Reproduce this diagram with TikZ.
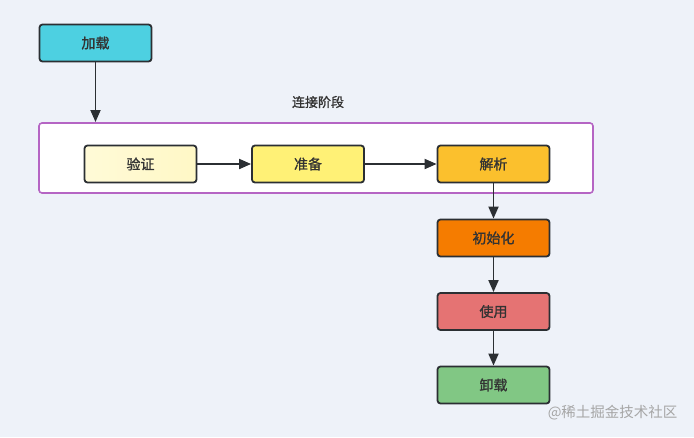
\documentclass[tikz,border=0pt]{standalone}
\usepackage{fontspec}
\setmainfont{Noto Sans CJK SC}
\newfontfamily\cjkm{Noto Sans CJK SC}[FakeBold=1.2]
\usetikzlibrary{arrows.meta}
\definecolor{bgc}{HTML}{EEF2F9}
\definecolor{edgec}{HTML}{2B2F33}
\definecolor{txtc}{HTML}{333333}
\definecolor{purp}{HTML}{B565C4}
\definecolor{cjz}{HTML}{4DD0E1}
\definecolor{cyz}{HTML}{FFF8C6}
\definecolor{czb}{HTML}{FFF176}
\definecolor{cjx}{HTML}{FBC02D}
\definecolor{ccs}{HTML}{F57C00}
\definecolor{csy}{HTML}{E57373}
\definecolor{cxz}{HTML}{81C784}
\tikzset{
  box/.style={draw=edgec, line width=1.8pt, rounded corners=3pt, minimum width=112pt, minimum height=37pt, inner sep=0pt, font=\cjkm\fontsize{14}{16}\selectfont, text=txtc},
  arr/.style={draw=edgec, line width=1.8pt, -{Triangle[length=12pt,width=10pt]}},
}
\begin{document}
\begin{tikzpicture}[x=1pt,y=-1pt]
\fill[bgc] (0,0) rectangle (694,437);
\useasboundingbox (0,0) rectangle (694,437);
\node[draw=purp, line width=1.6pt, fill=white, rounded corners=3pt, minimum width=554pt, minimum height=70pt, inner sep=0pt] (grp) at (316,158) {};
\node[font=\cjkm\fontsize{13}{15}\selectfont, text=txtc] (lbl) at (318,102) {连接阶段};
\node[box, fill=cjz] (jz) at (95.5,43) {加载};
\node[box, left color=cyz!70!white, right color=cyz] (yz) at (140.5,164) {验证};
\node[box, fill=czb] (zb) at (308,164) {准备};
\node[box, fill=cjx] (jx) at (493.5,164) {解析};
\node[box, fill=ccs] (cs) at (493.5,238) {初始化};
\node[box, fill=csy] (sy) at (493.5,311.5) {使用};
\node[box, fill=cxz] (xz) at (493.5,385) {卸载};
\coordinate (gt) at (95.5,122);
\draw[arr] (jz) -- (gt);
\draw[arr] (yz) -- (zb);
\draw[arr] (zb) -- (jx);
\draw[arr] (jx) -- (cs);
\draw[arr] (cs) -- (sy);
\draw[arr] (sy) -- (xz);
\node[font=\fontsize{14.5}{16}\selectfont, text=black!35, anchor=east] (wm) at (681,413) {@稀土掘金技术社区};
\end{tikzpicture}
\end{document}
